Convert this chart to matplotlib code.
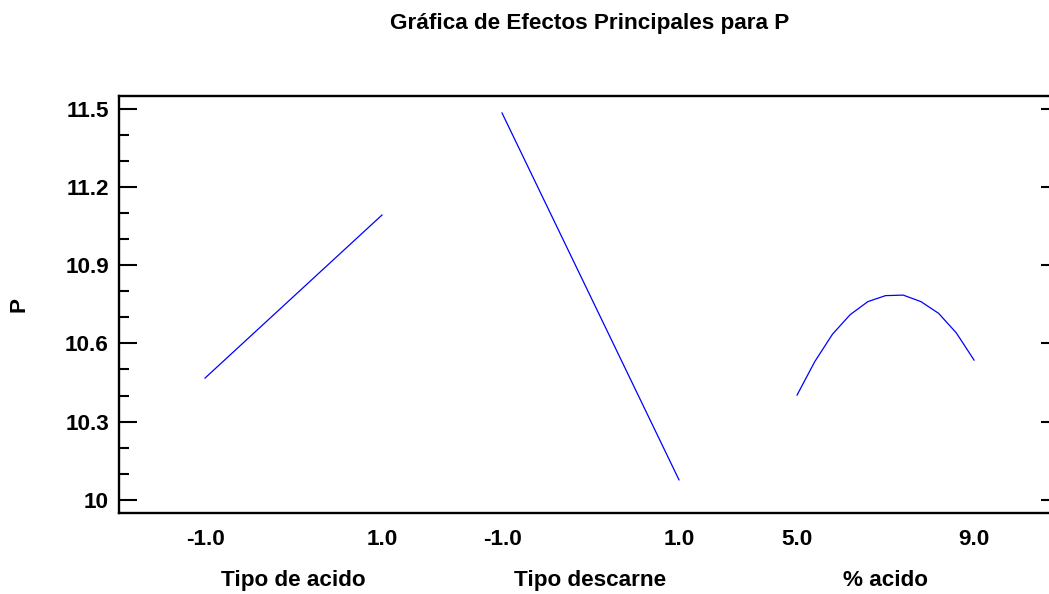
import matplotlib.pyplot as plt
import numpy as np

plt.rcParams['font.family'] = ['Liberation Sans', 'DejaVu Sans']
plt.rcParams['font.weight'] = 'bold'

# main effects for P
acid_type_levels = [-1.0, 1.0]
acid_type_P = [10.467, 11.092]

descarne_levels = [-1.0, 1.0]
descarne_P = [11.483, 10.077]

pct_acid_levels = [5.0, 5.4, 5.8, 6.2, 6.6, 7.0, 7.4, 7.8, 8.2, 8.6, 9.0]
pct_acid_P = [10.402, 10.53, 10.635, 10.71, 10.76, 10.783, 10.785, 10.76, 10.715, 10.64, 10.536]

factor_names = ['Tipo de acido', 'Tipo descarne', '% acido']
tick_text = [['-1.0', '1.0'], ['-1.0', '1.0'], ['5.0', '9.0']]
yticks = [10, 10.3, 10.6, 10.9, 11.2, 11.5]
ytick_labels = ['10', '10.3', '10.6', '10.9', '11.2', '11.5']

panel_offset = [0.0, 1.678, 3.345]
FS = 16.2
PX = 0.72  # points per pixel at dpi 100

W, H = 1049, 594
fig = plt.figure(figsize=(W / 100, H / 100), dpi=100)
ax = fig.add_axes([119 / W, (H - 513) / H, (1059 - 119) / W, 417 / H])

series = [(acid_type_levels, acid_type_P),
          (descarne_levels, descarne_P),
          (pct_acid_levels, pct_acid_P)]

xt, xl = [], []
for k, (lv, p) in enumerate(series):
    lv = np.array(lv)
    lo, hi = lv.min(), lv.max()
    pos = panel_offset[k] + (lv - lo) / (hi - lo)
    ax.plot(pos, p, color='#0000ff', lw=0.9)
    xt += [panel_offset[k], panel_offset[k] + 1]
    xl += tick_text[k]
    ax.text(panel_offset[k] + 0.5, -0.161, factor_names[k], transform=ax.get_xaxis_transform(),
            ha='center', va='center', fontsize=FS, fontweight='bold')

ax.set_xlim(-0.486, 4.825)
ax.set_ylim(9.950, 11.548)
ax.set_xticks(xt)
ax.set_xticklabels(xl, fontsize=FS, fontweight='bold')
ax.tick_params(axis='x', length=0, pad=16 * PX)

ax.set_yticks(yticks)
ax.set_yticklabels(ytick_labels, fontsize=FS, fontweight='bold')
ax.set_yticks(np.arange(10.1, 11.5, 0.1), minor=True)
ax.tick_params(axis='y', which='major', direction='in', length=18 * PX, width=1.5, pad=10 * PX,
               right=True, left=True)
ax.tick_params(axis='y', which='minor', direction='in', length=10 * PX, width=1.5, left=True, right=False)

for s in ax.spines.values():
    s.set_linewidth(1.7)

ax.set_ylabel('P', fontsize=FS, fontweight='bold', labelpad=26)
fig.text(590 / W, 1 - 23 / H, 'Gráfica de Efectos Principales para P', ha='center', va='center',
         fontsize=FS, fontweight='bold')

fig.savefig('out.png', dpi=100)
